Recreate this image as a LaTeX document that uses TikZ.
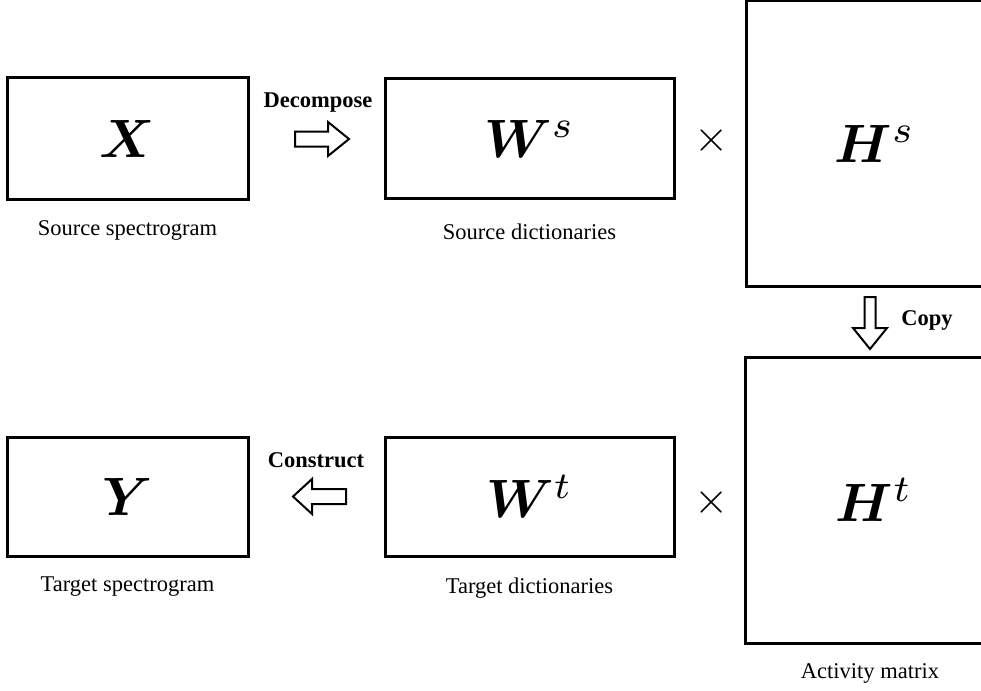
\documentclass[tikz,border=0pt]{standalone}
\usepackage[no-math]{fontspec}
\setmainfont{Liberation Serif}
\usepackage{graphicx}
\usepackage{bm}
\newcommand{\bigmath}[1]{\scalebox{5.4}{$#1$}}
\begin{document}
\begin{tikzpicture}[x=1pt,y=-1pt,
  mat/.style={draw, line width=3pt, inner sep=0pt},
  captext/.style={font=\fontsize{22.5}{27}\selectfont, inner sep=0pt},
  optext/.style={font=\bfseries\fontsize{22.5}{27}\selectfont, inner sep=0pt},
  blockarrow/.style={draw, line width=2pt, fill=white, line join=miter},
  timesop/.style={inner sep=0pt}]
\useasboundingbox (0,0) rectangle (981,690);
\clip (0,0) rectangle (981,690);

% source side: X = W^s x H^s
\node[mat, minimum width=241pt, minimum height=121pt] (X) at (127.5,138.5) {\bigmath{\bm{X}}};
\node[mat, minimum width=289pt, minimum height=119pt] (Ws) at (529.5,138.5) {\bigmath{\bm{W}^s}};
\node[timesop] (m1) at (712,140) {\scalebox{4.4}{$\times$}};
\node[mat, minimum width=258pt, minimum height=285pt] (Hs) at (875,143.5) {\bigmath{\bm{H}^s}};

% target side: Y = W^t x H^t
\node[mat, minimum width=241pt, minimum height=119pt] (Y) at (127.5,496.5) {\bigmath{\bm{Y}}};
\node[mat, minimum width=289pt, minimum height=119pt] (Wt) at (529.5,496.5) {\bigmath{\bm{W}^t}};
\node[timesop] (m2) at (712,502) {\scalebox{4.4}{$\times$}};
\node[mat, minimum width=258pt, minimum height=286pt] (Ht) at (874,500) {\bigmath{\bm{H}^t}};

% captions
\node[captext] (lX) at (127.5,230) {Source spectrogram};
\node[captext] (lWs) at (529.5,232) {Source dictionaries};
\node[captext] (lY) at (127.5,587) {Target spectrogram};
\node[captext] (lWt) at (529.5,588) {Target dictionaries};
\node[captext] (lH) at (870,673) {Activity matrix};

% operation labels
\node[optext] (dec) at (318,103) {Decompose};
\node[optext] (con) at (316,460) {Construct};
\node[optext] (cpy) at (927,320) {Copy};

% hollow block arrows
\draw[blockarrow] (295,131.5) -- (328,131.5) -- (328,122) -- (349,139)
  -- (328,156) -- (328,146.5) -- (295,146.5) -- cycle;
\draw[blockarrow] (346,489) -- (312,489) -- (312,479) -- (293,496.5)
  -- (312,514) -- (312,504) -- (346,504) -- cycle;
\draw[blockarrow] (864.5,297) -- (864.5,328) -- (853,328) -- (870,349)
  -- (887,328) -- (875.5,328) -- (875.5,297) -- cycle;
\end{tikzpicture}
\end{document}
